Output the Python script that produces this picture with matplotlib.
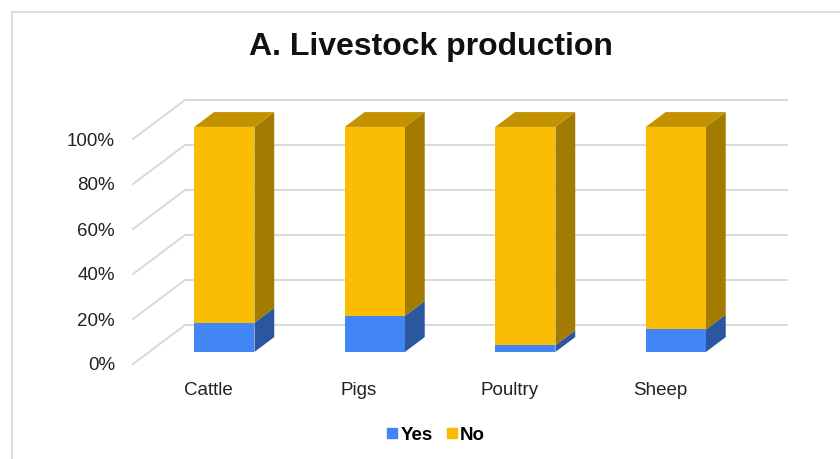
import matplotlib
matplotlib.use("Agg")
import matplotlib.pyplot as plt
from matplotlib.patches import Polygon, Rectangle
from matplotlib.lines import Line2D

categories = ["Cattle", "Pigs", "Poultry", "Sheep"]
yes_pct = [13, 16, 3, 10]
no_pct = [87, 84, 97, 90]
yticks = [0, 20, 40, 60, 80, 100]
ytick_labels = ["0%", "20%", "40%", "60%", "80%", "100%"]
title = "A. Livestock production"
series_names = ["Yes", "No"]

FONT = ["Liberation Sans", "DejaVu Sans"]
plt.rcParams["font.family"] = FONT

W, H = 840, 459
fig = plt.figure(figsize=(W / 100, H / 100), dpi=100)
fig.patch.set_facecolor("white")

# chart border
fig.add_artist(Rectangle((12 / W, -0.1), 1.2, 1 - 12 / H + 0.1,
                         transform=fig.transFigure, fill=False,
                         edgecolor="#D9D9D9", lw=1.3))

ax = fig.add_axes([133 / W, 95 / H, 602 / W, 225 / H])
ax.set_xlim(-0.5, len(categories) - 0.5)
ax.set_ylim(0, 100)
for s in ax.spines.values():
    s.set_visible(False)
ax.patch.set_alpha(0)

# oblique depth projection (data units per full depth)
DX, DY = 0.3455, 17.33
T0, T1 = 0.31, 0.69
HW = 0.2


def P(x, y, t):
    return (x + t * DX, y + t * DY)


grid_c = "#D9D9D9"
x_lo, x_hi = -0.5, len(categories) - 0.5
for v in yticks:
    a = P(x_lo, v, 1)
    b = P(x_hi, v, 1)
    ax.add_line(Line2D([a[0], b[0]], [a[1], b[1]], color=grid_c, lw=1.4,
                       clip_on=False, zorder=1))
    c = P(x_lo, v, 0)
    ax.add_line(Line2D([c[0], a[0]], [c[1], a[1]], color=grid_c, lw=1.4,
                       clip_on=False, zorder=1))

front_cols = ["#4285F4", "#FBBC04"]
side_cols = ["#2B56A0", "#A37B00"]
top_col = "#C39200"

xs = list(range(len(categories)))
ox, oy = P(0, 0, T0)
for i, x in enumerate(xs):
    bottoms = [0, yes_pct[i]]
    vals = [yes_pct[i], no_pct[i]]
    for k in range(2):
        y0 = bottoms[k]
        y1 = bottoms[k] + vals[k]
        ax.bar(x + ox, vals[k], width=2 * HW, bottom=y0 + oy,
               color=front_cols[k], edgecolor="none", zorder=3, clip_on=False)
        xr = x + HW
        side = [P(xr, y0, T0), P(xr, y1, T0), P(xr, y1, T1), P(xr, y0, T1)]
        ax.add_patch(Polygon(side, closed=True, facecolor=side_cols[k],
                             edgecolor="none", zorder=3, clip_on=False))
    ytop = yes_pct[i] + no_pct[i]
    xl, xr = x - HW, x + HW
    top = [P(xl, ytop, T0), P(xr, ytop, T0), P(xr, ytop, T1), P(xl, ytop, T1)]
    ax.add_patch(Polygon(top, closed=True, facecolor=top_col,
                         edgecolor="none", zorder=3, clip_on=False))

ax.set_yticks(yticks)
ax.set_yticklabels(ytick_labels, fontsize=13.5, color="#222222")
ax.set_xticks(xs)
ax.set_xticklabels(categories, fontsize=13.5, color="#222222")
ax.tick_params(axis="y", length=0, pad=13)
ax.tick_params(axis="x", length=0, pad=13)

fig.text(431 / W, 1 - 47 / H, title, ha="center", va="center",
         fontsize=23, fontweight="bold", color="#111111")

handles = [Line2D([], [], marker="s", ls="", markersize=7.5, color=c)
           for c in front_cols]
leg = fig.legend(handles, series_names, loc="center", ncol=2,
                 bbox_to_anchor=(435 / W, 1 - 435 / H), frameon=False,
                 prop={"weight": "bold", "size": 13.5},
                 handletextpad=0.05, columnspacing=0.6, handlelength=0.8)

fig.savefig("out.png", dpi=100)
